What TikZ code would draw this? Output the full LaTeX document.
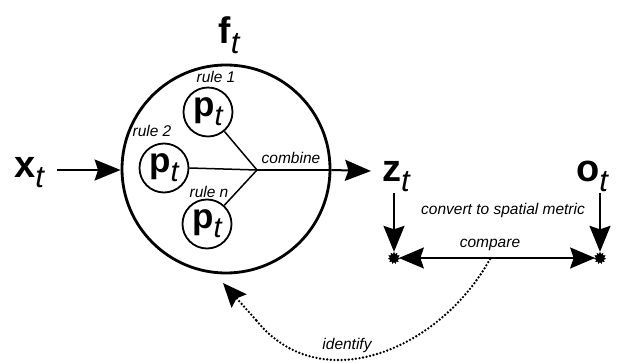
\documentclass[tikz,border=0pt]{standalone}
\usepackage{fontspec}
\setmainfont{Liberation Sans}
\usetikzlibrary{arrows.meta,shapes.geometric}
\newcommand\vsym[3]{{\fontsize{#2}{#2}\selectfont\bfseries #1}{\fontsize{#3}{#3}\selectfont\raisebox{-0.3em}{\itshape t}}}
\begin{document}
\begin{tikzpicture}[x=1pt,y=-1pt,
  big/.style={inner sep=0pt, anchor=base west},
  lbl/.style={font=\fontsize{15.5}{17}\selectfont\itshape, inner sep=0pt},
  pcirc/.style={circle, draw, line width=1.8pt, minimum size=49pt, inner sep=0pt},
  arr/.style={line width=2pt, -{Stealth[length=26pt,width=21pt,inset=3.5pt]}},
  darr/.style={line width=2pt, {Stealth[length=25pt,width=21pt,inset=3.5pt]}-{Stealth[length=25pt,width=21pt,inset=3.5pt]}},
  thin/.style={line width=1.5pt},
  splat/.style={star, star points=11, star point ratio=1.5, fill, draw, line width=0.6pt, minimum size=11pt, inner sep=0pt},
  dotline/.style={line width=2.6pt, line cap=round, dash pattern=on 0pt off 3.6pt},
]
\useasboundingbox (0,0) rectangle (625,363);
\clip (0,0) rectangle (625,363);

% big circle f_t
\node[circle, draw, line width=2.8pt, minimum size=208pt, inner sep=0pt] (F) at (226,169) {};
\node[big, anchor=base] (ft) at (229,44) {\vsym{f}{37pt}{31pt}};

% inner circles
\node[pcirc] (P1) at (208,112) {\vsym{p}{35pt}{29pt}};
\node[pcirc] (P2) at (164,168) {\vsym{p}{35pt}{29pt}};
\node[pcirc] (Pn) at (207,224) {\vsym{p}{35pt}{29pt}};
\coordinate (C) at (257,170);
\draw[thin] (P1) -- (C);
\draw[thin] (P2.east) -- (C);
\draw[thin] (Pn) -- (C);

\node[lbl] (r1) at (216,77) {rule 1};
\node[lbl] (r2) at (152,131) {rule 2};
\node[lbl] (rn) at (209,192) {rule n};
\node[lbl] (cb) at (291,158) {combine};

% x_t
\node[big] (X) at (14,178) {\vsym{x}{38pt}{31pt}};
\coordinate (xa) at (57,170);
\draw[arr] (xa) -- (F.west |- xa);

% z_t and o_t
\node[big] (Z) at (382,182) {\vsym{z}{38pt}{31pt}};
\node[big] (O) at (576,182) {\vsym{o}{38pt}{31pt}};
\coordinate (za) at (371,171);
\draw[thin] (C) -- (F.east |- C);
\draw[arr] (F.east |- C) -- (za);

% dots
\node[splat] (DL) at (394,258) {};
\node[splat] (DR) at (600,258) {};
\coordinate (zd) at (394,193);
\coordinate (od) at (600,193);
\draw[arr] (zd) -- (DL.north);
\draw[arr] (od) -- (DR.north);
\draw[darr] (DL.east) -- (DR.west);

\node[lbl] (cv) at (503,210) {convert to spatial metric};
\node[lbl] (cp) at (490,245) {compare};

% identify loop
\coordinate (cs) at (490,259);
\coordinate (ce) at (223,283);
\draw[dotline] (cs) .. controls (440,350) and (320,400) .. (256,320);
\draw[dotline, -{Stealth[length=24pt,width=20pt,inset=3.5pt,line cap=butt]}] (256,320) -- (ce);
\node[lbl] (id) at (347,345) {identify};
\end{tikzpicture}
\end{document}
